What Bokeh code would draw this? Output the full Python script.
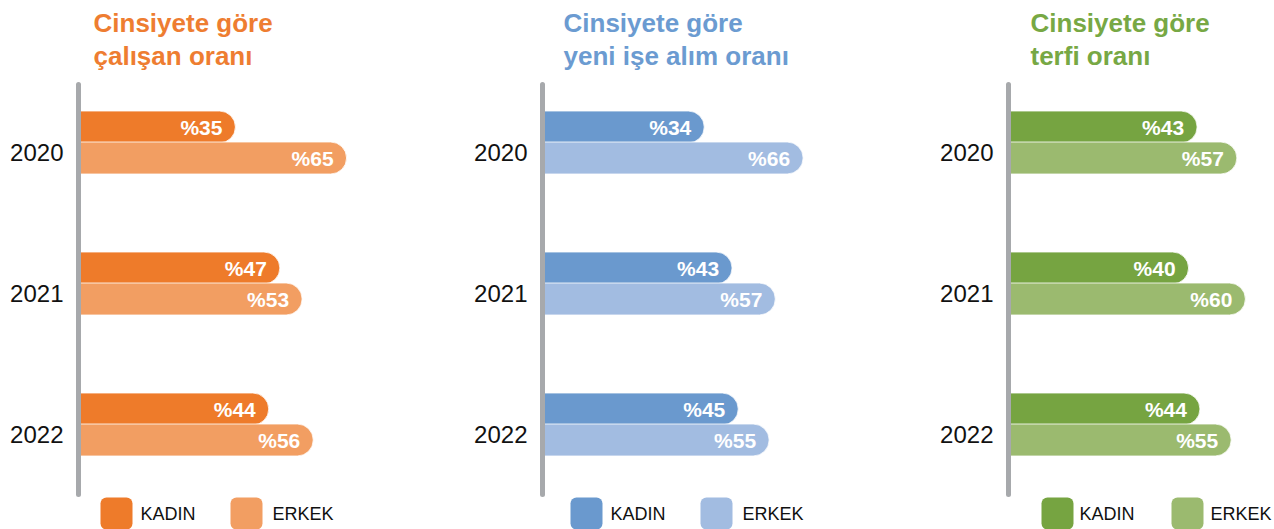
from bokeh.plotting import figure
from bokeh.layouts import row
from bokeh.models import Range1d
from bokeh.embed import file_html
from bokeh.resources import INLINE
from bokeh.core.properties import value

# ---------------- data ----------------
years = ["2020", "2021", "2022"]
kadin_calisan = [35, 47, 44]
erkek_calisan = [65, 53, 56]
kadin_alim = [34, 43, 45]
erkek_alim = [66, 57, 55]
kadin_terfi = [43, 40, 44]
erkek_terfi = [57, 60, 55]
legend_labels = ["KADIN", "ERKEK"]
title_calisan = ["Cinsiyete göre", "çalışan oranı"]
title_alim = ["Cinsiyete göre", "yeni işe alım oranı"]
title_terfi = ["Cinsiyete göre", "terfi oranı"]

# ---------------- layout / style ----------------
H = 529
AXIS_PX = 78          # vertical rule position inside each panel
G0, GS = 142, 141     # first group centre and group spacing (px)
BAR_H = 32            # px
FONT = "Liberation Sans"

panels = [
    dict(titles=title_calisan, kadin=kadin_calisan, erkek=erkek_calisan, width=464,
         a=27.2, b=3.706, dark="#EE7B2A", light="#F29E62", tcolor="#EE7D31",
         title_dx=15, leg=(22, 62, 152, 194)),
    dict(titles=title_alim, kadin=kadin_alim, erkek=erkek_alim, width=466,
         a=56.7, b=3.09, dark="#6A99CE", light="#A2BCE1", tcolor="#6B9BD1",
         title_dx=21, leg=(28, 68, 158, 200)),
    dict(titles=title_terfi, kadin=kadin_terfi, erkek=erkek_terfi, width=344,
         a=66.5, b=2.84, dark="#76A441", light="#9BBA6F", tcolor="#77A844",
         title_dx=22, leg=(33, 71, 163, 202)),
]


def make_panel(cfg):
    W = cfg["width"]
    a, b = cfg["a"], cfg["b"]
    x_start = -(AXIS_PX + a) / b
    x_end = (W - AXIS_PX - a) / b
    base = -a / b
    y_start = (H - G0) / GS
    y_end = -G0 / GS

    p = figure(width=W, height=H, x_range=Range1d(x_start, x_end),
               y_range=Range1d(y_start, y_end), output_backend="svg",
               toolbar_location=None, min_border=0, title=None,
               x_axis_location=None, y_axis_location=None,
               outline_line_color=None, background_fill_color="white",
               border_fill_color="white")
    p.grid.visible = False
    p.extra_x_ranges = {"px": Range1d(0, W)}
    p.extra_y_ranges = {"px": Range1d(H, 0)}

    idx = list(range(len(years)))
    d = (BAR_H / 2 - 0.5) / GS
    yk = [i - d for i in idx]
    ye = [i + d for i in idx]
    h = BAR_H / GS

    p.hbar(y=yk, left=base, right=cfg["kadin"], height=h, fill_color=cfg["dark"],
           line_color="white", line_width=0.8, border_radius=(0, 16, 16, 0))
    p.hbar(y=ye, left=base, right=cfg["erkek"], height=h, fill_color=cfg["light"],
           line_color="white", line_width=0.8, border_radius=(0, 16, 16, 0))

    lbl = dict(x_offset=-13, text_align="right", text_baseline="middle",
               text_font=value(FONT), text_font_style="bold",
               text_font_size="21px", text_color="white")
    p.text(x=cfg["kadin"], y=yk, text=["%" + str(v) for v in cfg["kadin"]], **lbl)
    p.text(x=cfg["erkek"], y=ye, text=["%" + str(v) for v in cfg["erkek"]], **lbl)

    # year labels
    p.text(x=[base] * len(years), y=idx, text=years, x_offset=-15, y_offset=10,
           text_align="right", text_baseline="middle", text_font=value(FONT),
           text_font_size="24px", text_color="#111111")

    # vertical rule
    p.segment(x0=[AXIS_PX], y0=[84], x1=[AXIS_PX], y1=[494],
              x_range_name="px", y_range_name="px", line_width=5,
              line_color="#A7A9AC", line_cap="round")

    # title
    p.text(x=[AXIS_PX + cfg["title_dx"]] * 2, y=[22, 55], text=cfg["titles"],
           x_range_name="px", y_range_name="px", text_align="left",
           text_baseline="alphabetic", text_font=value(FONT),
           text_font_style="bold", text_font_size="26px", text_color=cfg["tcolor"])

    # legend
    s1, t1, s2, t2 = cfg["leg"]
    p.rect(x=[AXIS_PX + s1 + 16, AXIS_PX + s2 + 16], y=[513, 513], width=32, height=32,
           x_range_name="px", y_range_name="px",
           fill_color=[cfg["dark"], cfg["light"]], line_color=None, border_radius=6)
    p.text(x=[AXIS_PX + t1, AXIS_PX + t2], y=[513, 513], text=legend_labels,
           x_range_name="px", y_range_name="px", text_align="left",
           text_baseline="middle", text_font=value(FONT),
           text_font_size="18px", text_color="#111111")
    return p


layout = row(*[make_panel(c) for c in panels])
open("out.html", "w").write(file_html(layout, INLINE))
